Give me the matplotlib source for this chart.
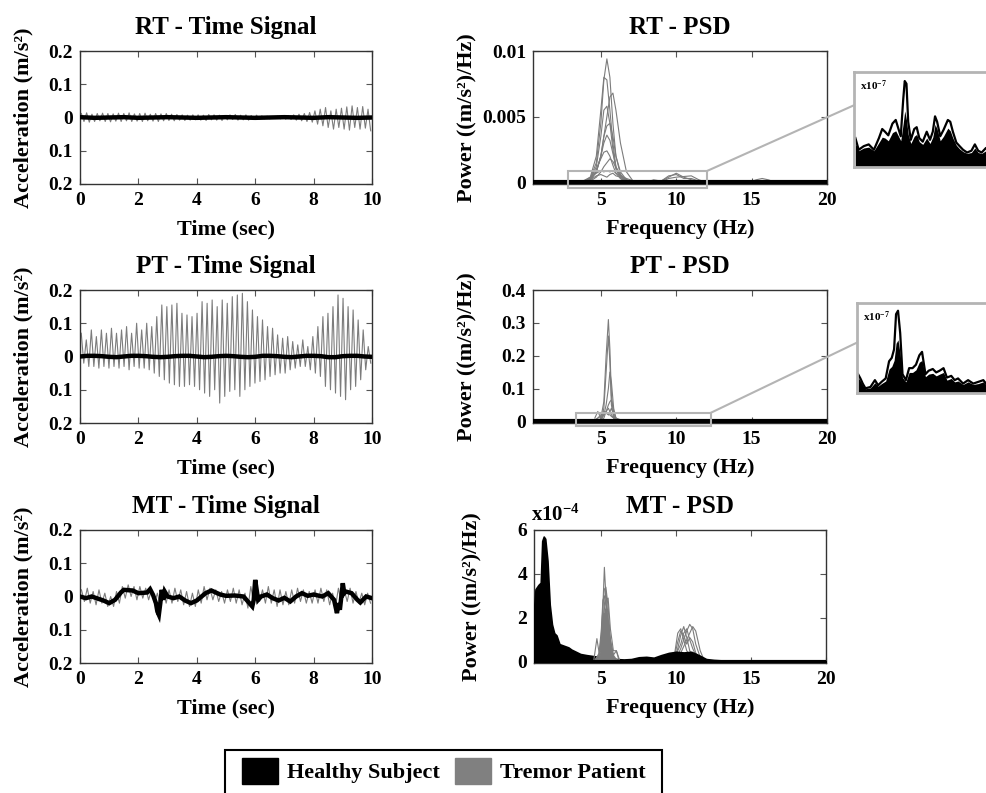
import matplotlib
matplotlib.use("Agg")
import matplotlib.pyplot as plt
import numpy as np
from matplotlib.patches import ConnectionPatch, Patch, Rectangle

plt.rcParams["font.family"] = ["Liberation Serif", "DejaVu Serif"]
plt.rcParams["font.weight"] = "bold"
plt.rcParams["axes.titleweight"] = "bold"
plt.rcParams["axes.labelweight"] = "bold"
plt.rcParams["mathtext.fontset"] = "custom"
plt.rcParams["mathtext.rm"] = "Liberation Serif:bold"
plt.rcParams["mathtext.it"] = "Liberation Serif:bold"
plt.rcParams["mathtext.bf"] = "Liberation Serif:bold"
plt.rcParams["mathtext.default"] = "rm"

# ---- time signals (m/s^2): tremor patient peaks / troughs per cycle ----
rt_tremor_peaks = [0.012, 0.014, 0.010, 0.012, 0.013, 0.012, 0.011, 0.013, 0.012, 0.014, 0.011,
                   0.012, 0.013, 0.010, 0.012, 0.011, 0.012, 0.010, 0.009, 0.008, 0.007, 0.008,
                   0.008, 0.007, 0.009, 0.008, 0.007, 0.006, 0.008, 0.009, 0.007, 0.008, 0.006,
                   0.007, 0.005, 0.004, 0.003, 0.004, 0.003, 0.006, 0.008, 0.010, 0.012, 0.015,
                   0.020, 0.025, 0.030, 0.020, 0.025, 0.028, 0.032, 0.035, 0.030, 0.033, 0.025]
rt_tremor_troughs = [-0.012, -0.014, -0.012, -0.010, -0.012, -0.013, -0.011, -0.012, -0.010, -0.012, -0.011,
                     -0.012, -0.010, -0.011, -0.012, -0.010, -0.009, -0.010, -0.008, -0.009, -0.008, -0.007,
                     -0.008, -0.009, -0.007, -0.008, -0.009, -0.007, -0.006, -0.008, -0.007, -0.008, -0.006,
                     -0.005, -0.004, -0.004, -0.003, -0.004, -0.005, -0.006, -0.008, -0.010, -0.012, -0.014,
                     -0.020, -0.025, -0.030, -0.035, -0.030, -0.035, -0.038, -0.030, -0.035, -0.032, -0.040]
rt_healthy = [0.001, -0.001, 0.0, 0.001, -0.001, 0.0, 0.001, 0.0, -0.001, 0.0, 0.001,
              0.0, -0.001, 0.0, 0.001, 0.0, -0.001, 0.001, 0.0, -0.001, 0.0]

pt_tremor_peaks = [0.070, 0.050, 0.080, 0.060, 0.080, 0.070,
                   0.085, 0.070, 0.080, 0.090, 0.070, 0.100,
                   0.080, 0.100, 0.090, 0.120, 0.155, 0.150,
                   0.155, 0.160, 0.130, 0.125, 0.120, 0.130,
                   0.165, 0.160, 0.170, 0.150, 0.170, 0.160,
                   0.180, 0.185, 0.190, 0.165, 0.140, 0.120,
                   0.110, 0.090, 0.085, 0.065, 0.055, 0.060,
                   0.045, 0.035, 0.050, 0.030, 0.060, 0.090,
                   0.120, 0.130, 0.150, 0.185, 0.175,
                   0.150, 0.140, 0.110, 0.080, 0.030]
pt_tremor_troughs = [-0.020, -0.030, -0.030, -0.035, -0.030, -0.035,
                     -0.030, -0.035, -0.030, -0.040, -0.030, -0.035,
                     -0.035, -0.040, -0.050, -0.060, -0.070, -0.080,
                     -0.085, -0.090, -0.090, -0.085, -0.090, -0.100,
                     -0.110, -0.120, -0.100, -0.140, -0.120, -0.105,
                     -0.100, -0.120, -0.100, -0.090, -0.080, -0.075,
                     -0.070, -0.060, -0.055, -0.050, -0.050, -0.040,
                     -0.035, -0.030, -0.030, -0.040, -0.050, -0.060,
                     -0.090, -0.100, -0.110, -0.120, -0.130,
                     -0.100, -0.090, -0.070, -0.040, -0.020]
pt_healthy = [0.0, 0.002, 0.002, 0.001, -0.001, -0.002, 0.0, 0.002, 0.002, 0.001, -0.001,
              -0.002, -0.001, 0.001, 0.002, 0.002, 0.0, -0.002, -0.001, 0.001, 0.002,
              0.001, -0.001, -0.002, -0.001, 0.002, 0.002, 0.001, -0.001, -0.002, 0.0,
              0.002, 0.002, 0.001, -0.002, -0.002, 0.001, 0.002, 0.002, 0.0, -0.001]

mt_tremor_peaks = [0.020, 0.025, 0.015, 0.020, 0.010,
                   0.000, 0.015, 0.030, 0.035, 0.030,
                   0.030, 0.025, 0.020, 0.010, 0.020,
                   0.020, 0.025, 0.020, 0.015, 0.010,
                   0.020, 0.030, 0.025, 0.020, 0.015,
                   0.020, 0.025, 0.020, 0.010, 0.030,
                   0.025, 0.020, 0.030, 0.020, 0.020,
                   0.015, 0.020, 0.025, 0.020, 0.015,
                   0.020, 0.025, 0.020, 0.010, 0.025,
                   0.020, 0.025, 0.015, 0.010, 0.010]
mt_tremor_troughs = [-0.015, -0.020, -0.025, -0.020, -0.030,
                     -0.030, -0.020, -0.005, 0.000, -0.010,
                     -0.005, -0.010, -0.020, -0.030, -0.020,
                     -0.020, -0.015, -0.025, -0.030, -0.030,
                     -0.020, -0.010, -0.010, -0.015, -0.020,
                     -0.015, -0.020, -0.025, -0.035, -0.020,
                     -0.015, -0.020, -0.020, -0.030, -0.025,
                     -0.025, -0.020, -0.015, -0.020, -0.020,
                     -0.020, -0.015, -0.025, -0.030, -0.020,
                     -0.015, -0.020, -0.020, -0.025, -0.020]
mt_healthy_t = [0, 0.2, 0.4, 0.6, 0.8, 1.0, 1.2, 1.4, 1.5, 1.8,
                2.0, 2.3, 2.4, 2.5, 2.6, 2.65, 2.7, 2.75, 2.8, 2.85,
                2.9, 3.0, 3.2, 3.4, 3.6, 3.8, 4.0, 4.3, 4.5, 4.8,
                5.0, 5.3, 5.6, 5.8, 5.9, 5.95, 6.0, 6.05, 6.1, 6.2,
                6.4, 6.6, 6.8, 7.0, 7.2, 7.4, 7.6, 7.8, 8.0, 8.3,
                8.5, 8.7, 8.8, 8.85, 8.9, 8.95, 9.0, 9.05, 9.1, 9.3,
                9.5, 9.6, 9.8, 10.0]
mt_healthy = [0.0, -0.005, 0.0, -0.006, -0.012, -0.02, -0.01, 0.012, 0.02, 0.018,
              0.01, 0.012, 0.022, 0.005, -0.02, -0.045, -0.055, -0.02, 0.02, -0.01,
              0.015, 0.0, -0.005, 0.0, -0.012, -0.02, -0.012, 0.01, 0.018, 0.006,
              0.002, 0.003, 0.0, -0.02, -0.03, -0.01, 0.05, 0.02, -0.01, 0.0,
              0.006, -0.005, -0.012, -0.004, -0.015, 0.0, 0.01, 0.002, 0.006, 0.0,
              0.01, -0.01, -0.05, -0.02, -0.04, 0.0, 0.04, 0.01, 0.015, 0.01,
              -0.01, -0.018, 0.0, -0.005]

# ---- PSD curves ----
healthy_flat_f = [0.5, 5, 10, 15, 20]
healthy_flat_p = [0, 0, 0, 0, 0]

# RT, tremor patient, units of 1e-3 (m/s^2)^2/Hz
rt_grid = [3.8, 4.3, 4.7, 5.0, 5.2, 5.4, 5.6, 5.8, 6.0, 6.3, 6.7, 7.2]
rt_psd_e3 = [
    [0, 0.3, 1.5, 4.5, 7.8, 9.4, 8.0, 4.5, 2.0, 0.6, 0.1, 0],
    [0, 0.4, 2.0, 5.5, 8.0, 7.8, 5.5, 3.0, 1.2, 0.4, 0.1, 0],
    [0, 0.2, 0.8, 2.0, 3.5, 5.0, 6.5, 6.8, 5.5, 3.0, 0.8, 0],
    [0, 0.3, 1.2, 3.5, 5.5, 5.8, 4.5, 2.5, 1.0, 0.3, 0, 0],
    [0, 0.2, 0.8, 2.0, 3.5, 4.3, 4.5, 3.5, 2.0, 0.8, 0.2, 0],
    [0, 0.2, 0.8, 2.0, 3.0, 3.6, 3.2, 2.2, 1.2, 0.5, 0.1, 0],
    [0, 0.3, 1.0, 1.8, 2.3, 2.4, 2.0, 1.3, 0.7, 0.3, 0.1, 0],
    [0, 0.1, 0.4, 0.8, 1.2, 1.5, 1.8, 1.6, 1.1, 0.6, 0.2, 0],
    [0.1, 0.4, 0.7, 0.9, 0.8, 0.9, 0.8, 0.9, 0.7, 0.5, 0.3, 0.1],
    [0, 0.2, 0.5, 0.6, 0.5, 0.4, 0.6, 0.7, 0.5, 0.4, 0.2, 0],
]
rt_grid_10 = [8.0, 8.5, 9.0, 9.5, 10.0, 10.5, 11.0, 11.5, 12.0]
rt_psd_10_e3 = [
    [0, 0.2, 0.1, 0.4, 0.7, 0.4, 0.2, 0.05, 0],
    [0, 0.1, 0.05, 0.3, 0.4, 0.45, 0.5, 0.2, 0],
    [0, 0.15, 0.1, 0.5, 0.6, 0.3, 0.3, 0.1, 0],
]
rt_grid_15 = [14.8, 15.3, 15.7, 16.1, 16.6]
rt_psd_15_e3 = [[0, 0.2, 0.3, 0.2, 0]]

# PT, tremor patient
pt_grid = [4.6, 4.8, 5.0, 5.2, 5.35, 5.5, 5.6, 5.7, 5.85, 6.0, 6.3]
pt_psd = [
    [0, 0, 0.01, 0.06, 0.20, 0.31, 0.22, 0.08, 0.02, 0, 0],
    [0, 0, 0, 0.04, 0.15, 0.26, 0.18, 0.05, 0.01, 0, 0],
    [0, 0, 0, 0.02, 0.05, 0.10, 0.15, 0.12, 0.04, 0.01, 0],
    [0, 0, 0, 0.01, 0.03, 0.05, 0.06, 0.065, 0.03, 0.01, 0],
    [0.01, 0.03, 0.01, 0.02, 0.03, 0.04, 0.03, 0.02, 0.01, 0.005, 0],
    [0, 0.01, 0.02, 0.03, 0.025, 0.02, 0.03, 0.04, 0.02, 0.01, 0.005],
    [0.005, 0.01, 0.015, 0.02, 0.03, 0.02, 0.02, 0.015, 0.01, 0.008, 0.004],
]

# MT, units of 1e-4
mt_healthy_f = [0.5, 0.6, 0.7, 0.8, 0.95, 1.05, 1.15, 1.25, 1.4, 1.55,
                1.7, 1.85, 2.0, 2.2, 2.4, 2.6, 2.8, 3.0, 3.3, 3.6,
                4.0, 4.5, 5.0, 5.5, 6.0, 6.5, 7.0, 7.5, 8.0, 8.5,
                9.0, 9.5, 10.0, 10.5, 11.0, 11.5, 12.0, 12.5, 13, 14,
                15, 16, 18, 20]
mt_healthy_psd_e4 = [2.4, 3.3, 3.4, 3.5, 3.6, 5.5, 5.7, 5.6, 4.6, 2.6,
                     1.7, 1.3, 1.2, 0.8, 0.75, 0.7, 0.65, 0.55, 0.45, 0.35,
                     0.3, 0.25, 0.2, 0.15, 0.12, 0.1, 0.12, 0.2, 0.22, 0.18,
                     0.3, 0.4, 0.45, 0.42, 0.45, 0.3, 0.12, 0.08, 0.06, 0.04,
                     0.03, 0.03, 0.02, 0.02]
mt_grid_5 = [4.5, 4.7, 4.85, 5.0, 5.1, 5.2, 5.3, 5.45, 5.6, 5.8, 6.0, 6.2]
mt_psd_5_e4 = [
    [0, 0, 0.2, 1.0, 2.5, 4.3, 3.0, 1.2, 0.3, 0.1, 0, 0],
    [0, 0.1, 0.3, 1.2, 2.5, 3.3, 3.4, 2.5, 1.0, 0.3, 0.1, 0],
    [0, 0.2, 0.4, 1.5, 2.8, 3.0, 2.6, 1.8, 0.8, 0.2, 0.1, 0],
    [0.1, 1.05, 0.4, 0.5, 1.8, 2.6, 3.2, 2.0, 0.6, 0.2, 0.1, 0],
    [0, 0.1, 0.2, 0.8, 1.5, 2.4, 2.8, 2.9, 1.5, 0.5, 0.5, 0.1],
    [0, 0, 0.1, 0.5, 1.2, 2.0, 2.3, 1.8, 1.0, 0.3, 0.5, 0],
    [0, 0.2, 0.3, 1.0, 2.0, 2.2, 1.8, 1.3, 0.7, 0.2, 0.1, 0],
]
mt_fill_5_e4 = [0, 0.1, 0.2, 0.8, 1.8, 2.4, 2.6, 1.8, 0.7, 0.2, 0.05, 0]
mt_grid_10 = [9.6, 9.9, 10.1, 10.3, 10.5, 10.7, 10.9, 11.1, 11.3, 11.6, 11.9]
mt_psd_10_e4 = [
    [0, 0.4, 1.3, 1.5, 1.0, 0.5, 0.3, 0.2, 0.1, 0, 0],
    [0, 0.2, 0.6, 1.2, 1.6, 1.1, 0.5, 0.3, 0.2, 0.1, 0],
    [0, 0.1, 0.3, 0.6, 1.0, 1.4, 1.7, 1.5, 0.8, 0.2, 0],
    [0, 0.1, 0.2, 0.4, 0.7, 1.0, 1.3, 1.6, 1.4, 0.5, 0],
    [0, 0.3, 0.9, 1.4, 1.2, 0.8, 1.1, 0.9, 0.4, 0.1, 0],
    [0, 0.2, 0.5, 0.8, 1.3, 1.5, 1.0, 0.6, 0.3, 0.1, 0],
]

# zoomed healthy PSD (x1e-7, arbitrary height units)
rt_zoom_f = [2.90, 3.09, 3.38, 3.67, 3.97, 4.26, 4.45, 4.61, 4.80, 5.04,
             5.23, 5.39, 5.52, 5.66, 5.75, 5.85, 5.95, 6.10, 6.30, 6.44,
             6.59, 6.79, 7.02, 7.21, 7.37, 7.50, 7.62, 7.80, 7.99, 8.24,
             8.38, 8.53, 8.73, 8.92, 9.12, 9.35, 9.60, 9.80, 9.99, 10.19,
             10.44, 10.8, 11.2, 11.6, 12.06]
rt_zoom_outline = [0.32, 0.19, 0.23, 0.25, 0.19, 0.32, 0.42, 0.39, 0.35, 0.48,
                   0.52, 0.42, 0.34, 0.74, 0.95, 0.92, 0.50, 0.30, 0.42, 0.44,
                   0.32, 0.28, 0.39, 0.30, 0.39, 0.56, 0.50, 0.34, 0.41, 0.52,
                   0.50, 0.39, 0.27, 0.23, 0.19, 0.16, 0.18, 0.25, 0.18, 0.16,
                   0.21, 0.20, 0.17, 0.20, 0.18]
rt_zoom_solid = [0.26, 0.18, 0.21, 0.22, 0.18, 0.27, 0.33, 0.32, 0.29, 0.38,
                 0.40, 0.34, 0.29, 0.48, 0.62, 0.52, 0.36, 0.26, 0.34, 0.36,
                 0.28, 0.25, 0.32, 0.26, 0.33, 0.47, 0.42, 0.29, 0.34, 0.43,
                 0.40, 0.32, 0.24, 0.20, 0.17, 0.15, 0.16, 0.21, 0.16, 0.15,
                 0.18, 0.18, 0.15, 0.18, 0.16]
pt_zoom_f = [3.42, 3.55, 3.68, 3.83, 4.11, 4.36, 4.54, 4.73, 4.96, 5.15,
             5.30, 5.43, 5.54, 5.65, 5.77, 5.90, 6.09, 6.27, 6.46, 6.65,
             6.84, 6.99, 7.18, 7.36, 7.59, 7.78, 7.97, 8.19, 8.38, 8.62,
             8.81, 9.00, 9.28, 9.56, 9.85, 10.13, 10.41, 10.56, 11.0, 11.5,
             12.29]
pt_zoom_outline = [0.22, 0.17, 0.11, 0.055, 0.07, 0.15, 0.09, 0.13, 0.17, 0.37,
                   0.41, 0.51, 0.92, 0.96, 0.70, 0.22, 0.15, 0.29, 0.29, 0.33,
                   0.44, 0.48, 0.22, 0.26, 0.28, 0.24, 0.26, 0.29, 0.18, 0.20,
                   0.15, 0.17, 0.11, 0.15, 0.11, 0.13, 0.15, 0.11, 0.12, 0.10,
                   0.12]
pt_zoom_solid = [0.18, 0.14, 0.09, 0.05, 0.06, 0.12, 0.08, 0.11, 0.14, 0.28,
                 0.31, 0.38, 0.58, 0.62, 0.45, 0.18, 0.13, 0.24, 0.24, 0.27,
                 0.36, 0.38, 0.19, 0.22, 0.23, 0.20, 0.22, 0.24, 0.15, 0.17,
                 0.13, 0.14, 0.10, 0.13, 0.10, 0.11, 0.13, 0.10, 0.10, 0.09,
                 0.10]

rt_box = (2.82, 12.06, -0.00043, 0.00088)
pt_box = (3.36, 12.29, -0.014, 0.026)

GRAY = "#7c7c7c"
BOXC = "#b4b4b4"
W, H = 986, 793


def px(l, t, r, b):
    return [l / W, 1 - b / H, (r - l) / W, (b - t) / H]


def zigzag(peaks, troughs):
    n = len(peaks)
    period = 10.0 / n
    k = np.arange(n)
    t = np.empty(2 * n)
    y = np.empty(2 * n)
    t[0::2] = (k + 0.25) * period
    t[1::2] = (k + 0.75) * period
    y[0::2] = peaks
    y[1::2] = troughs
    return t, y


def style(ax):
    for s in ax.spines.values():
        s.set_color("#333333")
        s.set_linewidth(1.0)
    ax.tick_params(direction="in", top=True, right=True, length=4, width=0.8,
                   color="#555555", labelsize=14)
    ax.tick_params(axis="x", pad=6)
    ax.tick_params(axis="y", pad=5)
    for lab in ax.get_xticklabels() + ax.get_yticklabels():
        lab.set_fontweight("bold")


fig = plt.figure(figsize=(9.86, 7.93), dpi=100)

rows = [(51, 184), (290, 423), (530, 663)]
time_data = [
    ("RT - Time Signal", rt_tremor_peaks, rt_tremor_troughs, None, rt_healthy),
    ("PT - Time Signal", pt_tremor_peaks, pt_tremor_troughs, None, pt_healthy),
    ("MT - Time Signal", mt_tremor_peaks, mt_tremor_troughs, mt_healthy_t, mt_healthy),
]
for (top, bot), (title, pk, tr, ht, hv) in zip(rows, time_data):
    ax = fig.add_axes(px(80, top, 372, bot))
    t, y = zigzag(pk, tr)
    ax.plot(t, y, color=GRAY, lw=0.8, zorder=2)
    if ht is None:
        ht = np.linspace(0, 10, len(hv))
    ax.plot(ht, hv, color="black", lw=3.2, zorder=3, solid_joinstyle="miter")
    ax.set_xlim(0, 10)
    ax.set_ylim(-0.2, 0.2)
    ax.set_xticks([0, 2, 4, 6, 8, 10])
    ax.set_yticks([0.2, 0.1, 0, -0.1, -0.2])
    ax.set_yticklabels(["0.2", "0.1", "0", "0.1", "0.2"])
    ax.set_title(title, fontsize=18, pad=12)
    ax.set_xlabel("Time (sec)", fontsize=16, labelpad=7)
    ax.set_ylabel("Acceleration (m/s²)", fontsize=16)
    ax.yaxis.set_label_coords(-0.16, 0.5)
    style(ax)

# ---- RT PSD ----
ax_rt = fig.add_axes(px(533, 51, 827, 184))
for curve in rt_psd_e3:
    ax_rt.plot(rt_grid, np.array(curve) * 1e-3, color=GRAY, lw=0.8)
for curve in rt_psd_10_e3:
    ax_rt.plot(rt_grid_10, np.array(curve) * 1e-3, color=GRAY, lw=0.8)
for curve in rt_psd_15_e3:
    ax_rt.plot(rt_grid_15, np.array(curve) * 1e-3, color=GRAY, lw=0.8)
ax_rt.plot(healthy_flat_f, healthy_flat_p, color="black", lw=3, zorder=3)
ax_rt.set_xlim(0.5, 20)
ax_rt.set_ylim(-0.00012, 0.01)
ax_rt.set_yticks([0, 0.005, 0.01])
ax_rt.set_yticklabels(["0", "0.005", "0.01"])

# ---- PT PSD ----
ax_pt = fig.add_axes(px(533, 290, 827, 423))
for curve in pt_psd:
    ax_pt.plot(pt_grid, curve, color=GRAY, lw=0.8)
ax_pt.plot(healthy_flat_f, healthy_flat_p, color="black", lw=3, zorder=3)
ax_pt.set_xlim(0.5, 20)
ax_pt.set_ylim(-0.005, 0.4)
ax_pt.set_yticks([0, 0.1, 0.2, 0.3, 0.4])
ax_pt.set_yticklabels(["0", "0.1", "0.2", "0.3", "0.4"])

# ---- MT PSD ----
ax_mt = fig.add_axes(px(534, 530, 826, 663))
ax_mt.fill_between(mt_healthy_f, 0, mt_healthy_psd_e4, color="black", lw=1.2, zorder=3)
ax_mt.fill_between(mt_grid_5, 0, mt_fill_5_e4, color=GRAY, lw=0, zorder=4)
for curve in mt_psd_5_e4:
    ax_mt.plot(mt_grid_5, curve, color=GRAY, lw=0.8, zorder=4)
for curve in mt_psd_10_e4:
    ax_mt.plot(mt_grid_10, curve, color=GRAY, lw=0.8, zorder=2)
ax_mt.plot(healthy_flat_f, healthy_flat_p, color="black", lw=3, zorder=5)
ax_mt.set_xlim(0.5, 20)
ax_mt.set_ylim(-0.06, 6)
ax_mt.set_yticks([0, 2, 4, 6])
ax_mt.text(-0.01, 1.03, r"x10$^{-4}$", transform=ax_mt.transAxes, fontsize=15,
           ha="left", va="bottom")

for ax, title, lx in [(ax_rt, "RT - PSD", -0.19), (ax_pt, "PT - PSD", -0.19),
                      (ax_mt, "MT - PSD", -0.175)]:
    ax.set_xticks([5, 10, 15, 20])
    ax.set_title(title, fontsize=18, pad=12)
    ax.set_xlabel("Frequency (Hz)", fontsize=16, labelpad=7)
    ax.set_ylabel("Power ((m/s²)/Hz)", fontsize=16)
    ax.yaxis.set_label_coords(lx, 0.5)
    style(ax)

# ---- zoom insets ----
insets = [
    (ax_rt, rt_box, px(854, 72, 1014, 167), rt_zoom_f, rt_zoom_outline, rt_zoom_solid, 0.65),
    (ax_pt, pt_box, px(857, 303, 1017, 393), pt_zoom_f, pt_zoom_outline, pt_zoom_solid, 0.56),
]
for ax, (x0, x1, y0, y1), rect, zf, zo, zs, hit in insets:
    ax.add_patch(Rectangle((x0, y0), x1 - x0, y1 - y0, fill=False, ec=BOXC,
                           lw=1.5, clip_on=False, zorder=6))
    axi = fig.add_axes(rect)
    axi.fill_between(zf, 0, zs, color="black", lw=0)
    axi.plot(zf, zo, color="black", lw=1.6)
    axi.set_xlim(x0, x1)
    axi.set_ylim(0, 1.05)
    axi.set_xticks([])
    axi.set_yticks([])
    for s in axi.spines.values():
        s.set_color(BOXC)
        s.set_linewidth(2)
    axi.text(0.04, 0.93, r"x10$^{-7}$", transform=axi.transAxes, fontsize=8,
             ha="left", va="top")
    con = ConnectionPatch(xyA=(x1, y1), coordsA=ax.transData,
                          xyB=(0, hit), coordsB=axi.transAxes,
                          color=BOXC, lw=1.5, zorder=7)
    fig.add_artist(con)

# ---- legend ----
fig.add_artist(Rectangle((225 / W, -0.05), (662 - 225) / W, 0.05 + (793 - 750) / H,
                         transform=fig.transFigure, fill=False, ec="black", lw=1.5))
handles = [Patch(fc="black", ec="black"), Patch(fc="#808080", ec="#808080")]
fig.legend(handles, ["Healthy Subject", "Tremor Patient"], ncol=2,
           loc="upper left", bbox_to_anchor=(240 / W, 1 - 756 / H),
           frameon=False, prop={"family": "Liberation Serif", "weight": "bold", "size": 16},
           handlelength=1.6, handleheight=1.4, handletextpad=0.4,
           columnspacing=0.7, borderpad=0.1, borderaxespad=0)

fig.savefig("out.png", dpi=100)
